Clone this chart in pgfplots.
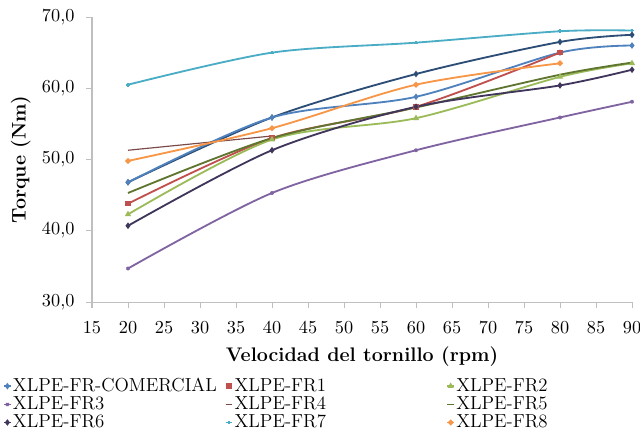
\documentclass[border=0pt]{standalone}
\usepackage{pgfplots}
\pgfplotsset{compat=1.18}
\definecolor{cCom}{HTML}{4F81BD}
\definecolor{cNavy}{HTML}{2C4D75}
\definecolor{cFR1}{HTML}{C0504D}
\definecolor{cFR2}{HTML}{9BBB59}
\definecolor{cFR3}{HTML}{8064A2}
\definecolor{cFR4}{HTML}{7B4A48}
\definecolor{cFR5}{HTML}{5F7530}
\definecolor{cFR6}{HTML}{40355A}
\definecolor{cFR7}{HTML}{4BACC6}
\definecolor{cFR8}{HTML}{F79646}
\definecolor{axgray}{HTML}{BFBFBF}

\begin{document}
\begin{tikzpicture}
\begin{axis}[
  scale only axis,
  width=324pt, height=171pt,
  xmin=15, xmax=90, ymin=30, ymax=70,
  xtick={15,20,...,90},
  ytick={30,40,...,70},
  axis lines*=left,
  axis line style={axgray, line width=0.6pt},
  tick style={axgray, line width=0.6pt},
  tick align=outside,
  major tick length=3.5pt,
  tick label style={font=\fontsize{11.3}{13}\selectfont},
  y tick label style={xshift=-3.5pt, /pgf/number format/.cd, fixed, fixed zerofill, precision=1, use comma},
  x tick label style={yshift=-5pt},
  xlabel={\textbf{Velocidad del tornillo (rpm)}},
  ylabel={\textbf{Torque (Nm)}},
  label style={font=\fontsize{11.8}{14}\selectfont},
  xlabel style={yshift=-1pt},
  ylabel style={yshift=0pt},
  every axis plot/.append style={smooth, line width=1.1pt, mark size=1.1pt},
  legend columns=3,
  legend cell align=left,
  legend style={draw=none, fill=none, at={(axis description cs:0,0)}, anchor=north west,
    xshift=-56.5pt, yshift=-43pt,
    font=\fontsize{11.3}{13}\selectfont,
    nodes={text width=126.6pt, inner sep=0.5pt},
    /tikz/every odd column/.append style={column sep=0.3pt},
    row sep=0.6pt},
  legend image code/.code={\draw[#1, line width=1pt] (0cm,0cm) -- (0.14cm,0cm);
    \draw[#1, mark repeat=2, mark phase=2] plot coordinates {(0cm,0cm) (0.07cm,0cm) (0.14cm,0cm)};},
]
% unlabeled dark blue series
\addplot[cNavy, mark=diamond*, forget plot] coordinates {(20,46.8) (40,55.9) (60,62.0) (80,66.5) (90,67.5)};
\addplot[cCom, mark=diamond*] coordinates {(20,46.8) (40,55.9) (60,58.8) (80,65.0) (90,66.0)};
\addlegendentry{XLPE-FR-COMERCIAL}
\addplot[cFR1, mark=square*] coordinates {(20,43.8) (40,53.0) (60,57.4) (80,65.0)};
\addlegendentry{XLPE-FR1}
\addplot[cFR2, mark=triangle*] coordinates {(20,42.3) (40,52.8) (60,55.8) (80,61.6) (90,63.5)};
\addlegendentry{XLPE-FR2}
\addplot[cFR3, mark=x] coordinates {(20,34.7) (40,45.3) (60,51.3) (80,55.9) (90,58.1)};
\addlegendentry{XLPE-FR3}
\addplot[cFR4, line width=0.7pt, no markers] coordinates {(20,51.3) (40,53.3)};
\addlegendentry{XLPE-FR4}
\addplot[cFR5, no markers] coordinates {(20,45.3) (40,53.0) (60,57.3) (80,61.9) (90,63.6)};
\addlegendentry{XLPE-FR5}
\addplot[cFR6, mark=diamond*] coordinates {(20,40.7) (40,51.3) (60,57.4) (80,60.4) (90,62.6)};
\addlegendentry{XLPE-FR6}
\addplot[cFR7, mark=+] coordinates {(20,60.5) (40,65.0) (60,66.4) (80,68.0) (90,68.1)};
\addlegendentry{XLPE-FR7}
\addplot[cFR8, mark=*] coordinates {(20,49.8) (40,54.4) (60,60.5) (80,63.5)};
\addlegendentry{XLPE-FR8}
\coordinate (bl) at (rel axis cs:0,0);
\coordinate (tr) at (rel axis cs:1,1);
\end{axis}
\pgfresetboundingbox
\path ([xshift=-55.2pt, yshift=-83.4pt]bl) rectangle ([xshift=4.8pt, yshift=10.2pt]tr);
\end{tikzpicture}
\end{document}
